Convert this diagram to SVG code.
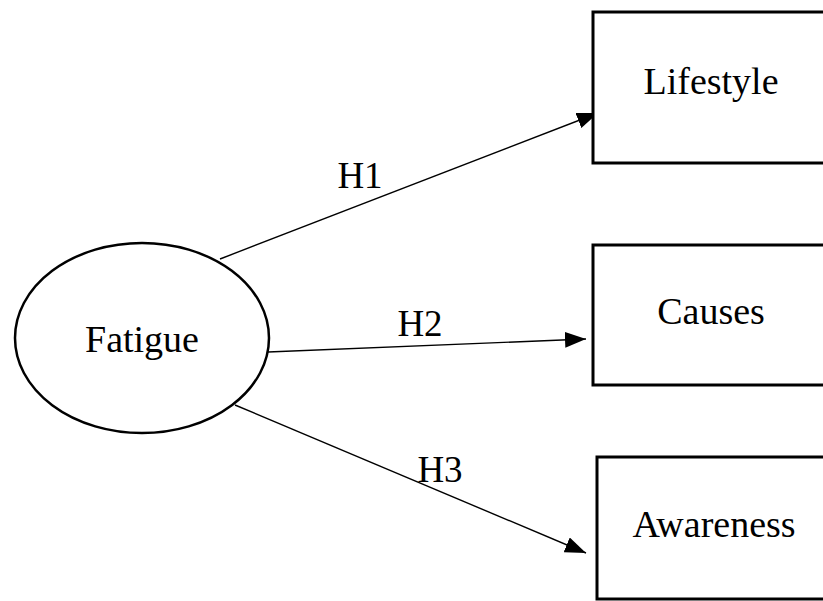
<svg xmlns="http://www.w3.org/2000/svg" width="823" height="601" viewBox="0 0 823 601">
<defs>
<style>
.box{fill:#fff;stroke:#000;stroke-width:3}
.ell{fill:#fff;stroke:#000;stroke-width:2.5}
.t{font-family:"Liberation Serif","Times New Roman",serif;font-size:38px;fill:#000;text-anchor:middle}
.lbl{font-family:"Liberation Serif","Times New Roman",serif;font-size:37px;fill:#000;text-anchor:middle}
.edge{stroke:#000;stroke-width:1.4;fill:none;marker-end:url(#arr)}
</style>
<marker id="arr" markerUnits="userSpaceOnUse" markerWidth="22" markerHeight="16" viewBox="0 0 22 16" refX="21" refY="8" orient="auto">
<path d="M0,0 L21,8 L0,16 Z" fill="#000"/>
</marker>
</defs>
<rect width="823" height="601" fill="#fff"/>
<g id="connectors">
<line class="edge" x1="220" y1="259" x2="598" y2="113"/>
<line class="edge" x1="268" y1="352" x2="586" y2="339"/>
<line class="edge" x1="235" y1="405" x2="586" y2="553"/>
<text class="lbl" x="360" y="188">H1</text>
<text class="lbl" x="420" y="336">H2</text>
<text class="lbl" x="440" y="482">H3</text>
</g>
<g id="fatigue">
<ellipse class="ell" cx="142" cy="338" rx="127" ry="95"/>
<text class="t" x="142" y="352">Fatigue</text>
</g>
<g id="lifestyle">
<rect class="box" x="593" y="12" width="240" height="151"/>
<text class="t" x="711" y="94">Lifestyle</text>
</g>
<g id="causes">
<rect class="box" x="593" y="245" width="240" height="140"/>
<text class="t" x="711" y="324">Causes</text>
</g>
<g id="awareness">
<rect class="box" x="597" y="457" width="240" height="142"/>
<text class="t" x="714" y="537">Awareness</text>
</g>
</svg>
